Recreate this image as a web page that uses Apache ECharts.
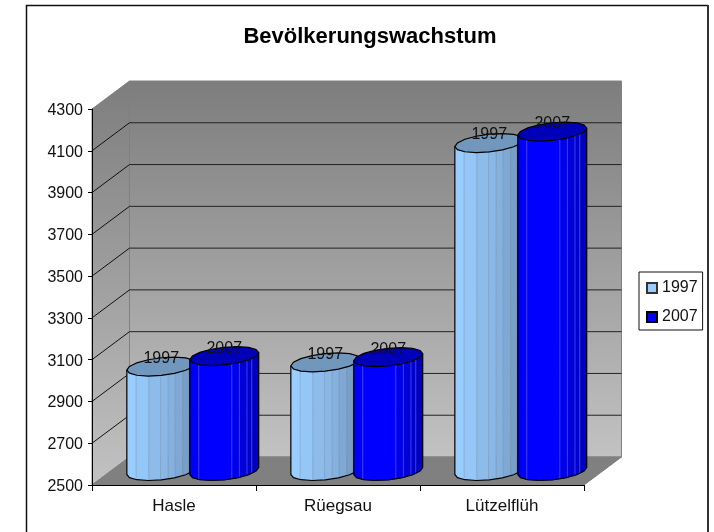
<!DOCTYPE html>
<html>
<head>
<meta charset="utf-8">
<style>html,body{margin:0;padding:0;background:#fff}#main{width:714px;height:532px}</style>
<script src="https://cdn.jsdelivr.net/npm/echarts@6/dist/echarts.min.js"></script>
</head>
<body>
<div id="main"></div>
<script>
var categories = ['Hasle', 'Rüegsau', 'Lützelflüh'];
var values1997 = [3000, 3020, 4070];
var values2007 = [3050, 3045, 4125];
var yTicks = [2500, 2700, 2900, 3100, 3300, 3500, 3700, 3900, 4100, 4300];

var FONT = '"Liberation Sans", Arial, sans-serif';
// oblique depth of the 3D box, in pixels
var DEPTH_X = 37.5, DEPTH_Y = 28;
// cylinder cross section
var RX = 32, SKEW_X = 12.7, SKEW_Y = 9.5;
var T0 = Math.atan2(SKEW_X, RX);
// outline vertices as fractions of the width (a 16-sided ring)
var OUTLINE = [0, 0.038, 0.146, 0.309, 0.5, 0.691, 0.854, 0.962, 1];

function ringPoint(cx, cy, t) {
    return [cx + RX * Math.cos(t) + SKEW_X * Math.sin(t), cy - SKEW_Y * Math.sin(t)];
}

// front half of the ring: fraction 0 is the left extreme, 1 the right one
function frontPoint(cx, cy, e) {
    return ringPoint(cx, cy, T0 - Math.acos(2 * e - 1));
}

function frontArc(cx, cy, e0, e1) {
    var pts = [frontPoint(cx, cy, e0)];
    OUTLINE.forEach(function (e) {
        if (e > e0 && e < e1) {
            pts.push(frontPoint(cx, cy, e));
        }
    });
    pts.push(frontPoint(cx, cy, e1));
    return pts;
}

function mix(rgb, f) {
    return 'rgb(' + rgb.map(function (c) { return Math.round(c * f); }).join(',') + ')';
}

/* Back wall, side wall, floor and their grid lines */
function renderWall(params, api) {
    var rect = params.coordSys;
    var y = api.coord([0, api.value(1)])[1];
    var x0 = rect.x, x1 = rect.x + rect.width;
    var yTop = rect.y, yBot = rect.y + rect.height;
    var children = [];
    if (params.dataIndex === 0) {
        var fade = {
            type: 'linear', x: 0, y: 0, x2: 0, y2: 1,
            colorStops: [{ offset: 0, color: '#7d7d7d' }, { offset: 1, color: '#c2c2c2' }]
        };
        children.push({
            type: 'polygon',
            shape: { points: [[x0 + DEPTH_X, yTop - DEPTH_Y], [x1 + DEPTH_X, yTop - DEPTH_Y], [x1 + DEPTH_X, yBot - DEPTH_Y], [x0 + DEPTH_X, yBot - DEPTH_Y]] },
            style: { fill: fade, stroke: '#808080', lineWidth: 1 }
        });
        children.push({
            type: 'polygon',
            shape: { points: [[x0, yTop], [x0 + DEPTH_X, yTop - DEPTH_Y], [x0 + DEPTH_X, yBot - DEPTH_Y], [x0, yBot]] },
            style: { fill: fade, stroke: '#808080', lineWidth: 1 }
        });
        children.push({
            type: 'polygon',
            shape: { points: [[x0, yBot], [x0 + DEPTH_X, yBot - DEPTH_Y], [x1 + DEPTH_X, yBot - DEPTH_Y], [x1, yBot]] },
            style: { fill: '#808080', stroke: '#808080', lineWidth: 1 }
        });
    }
    if (params.dataIndex > 0 && params.dataIndex < yTicks.length - 1) {
        children.push({
            type: 'line',
            shape: { x1: x0 + DEPTH_X, y1: y - DEPTH_Y, x2: x1 + DEPTH_X, y2: y - DEPTH_Y },
            style: { stroke: '#222', lineWidth: 1 }
        });
        children.push({
            type: 'line',
            shape: { x1: x0, y1: y, x2: x0 + DEPTH_X, y2: y - DEPTH_Y },
            style: { stroke: '#111', lineWidth: 1 }
        });
    }
    return { type: 'group', children: children };
}

/* One faceted cylinder, built from its category and value.
   look.edges: facet edges as fractions of the width, left to right */
function cylinderRenderer(offset, look) {
    var edges = look.edges;
    return function (params, api) {
        var band = api.size([1, 0])[0];
        var base = api.coord([api.value(0), yTicks[0]]);
        var top = api.coord([api.value(0), api.value(1)]);
        var cx = base[0] + offset * band + DEPTH_X / 2;
        var yb = base[1] - DEPTH_Y / 2;
        var yt = top[1] - DEPTH_Y / 2;
        var children = [];
        var i;
        for (i = 0; i < edges.length - 1; i++) {
            var c = mix(look.rgb, look.shades[i]);
            var upper = frontArc(cx, yt, edges[i], edges[i + 1]);
            var lower = frontArc(cx, yb, edges[i], edges[i + 1]).reverse();
            children.push({
                type: 'polygon',
                shape: { points: upper.concat(lower) },
                style: { fill: c, stroke: c, lineWidth: 0.5 }
            });
            if (i > 0) {
                children.push({
                    type: 'line',
                    shape: { x1: upper[0][0], y1: upper[0][1], x2: lower[lower.length - 1][0], y2: lower[lower.length - 1][1] },
                    style: { stroke: look.hairline, lineWidth: 1 }
                });
            }
        }
        var topFront = frontArc(cx, yt, 0, 1);
        var topBack = topFront.map(function (p) {
            return [2 * cx - p[0], 2 * yt - p[1]];
        });
        // outline round the visible body
        children.push({
            type: 'polyline',
            shape: { points: [topFront[0]].concat(frontArc(cx, yb, 0, 1), [topFront[topFront.length - 1]]) },
            style: { fill: 'none', stroke: '#000', lineWidth: 1.2 }
        });
        children.push({
            type: 'polygon',
            shape: { points: topFront.concat(topBack.slice(1, -1)) },
            style: { fill: mix(look.rgb, look.topShade), stroke: '#000', lineWidth: 1.2 }
        });
        children.push({
            type: 'text',
            style: {
                x: cx, y: yt - SKEW_Y + 1.5, text: params.seriesName, fill: '#111',
                font: '16px ' + FONT, align: 'center', verticalAlign: 'middle'
            }
        });
        return { type: 'group', children: children };
    };
}

function cylinderSeries(name, values, offset, look, z) {
    return {
        name: name,
        type: 'custom',
        z: z,
        coordinateSystem: 'cartesian2d',
        itemStyle: { color: mix(look.rgb, 1), borderColor: look.swatchBorder, borderWidth: 1 },
        renderItem: cylinderRenderer(offset, look),
        data: values.map(function (v, i) { return [i, v]; })
    };
}

var lightLook = {
    rgb: [153, 204, 255],
    edges: [0, 0.135, 0.32, 0.49, 0.6, 0.7, 0.81, 0.9, 1],
    shades: [1, 0.97, 0.92, 0.9, 0.87, 0.83, 0.78, 0.74],
    topShade: 0.74,
    hairline: 'rgba(120,140,165,0.35)',
    swatchBorder: '#333'
};
var darkLook = {
    rgb: [0, 0, 255],
    edges: [0, 0.13, 0.61, 0.72, 0.83, 0.9, 1],
    shades: [0.98, 1, 0.92, 0.85, 0.8, 0.74],
    topShade: 0.72,
    hairline: 'rgba(110,110,255,0.55)',
    swatchBorder: '#000'
};

var chart = echarts.init(document.getElementById('main'), null, { renderer: 'canvas' });
chart.setOption({
    animation: false,
    backgroundColor: '#fff',
    title: {
        text: 'Bevölkerungswachstum',
        left: 370, top: 26, padding: 0, textAlign: 'center',
        textStyle: { fontFamily: FONT, fontSize: 22, fontWeight: 'bold', color: '#000' }
    },
    legend: {
        data: ['1997', '2007'],
        orient: 'vertical',
        left: 639, top: 272,
        padding: [8, 5, 5, 7],
        itemWidth: 10, itemHeight: 10, itemGap: 13,
        icon: 'rect',
        borderColor: '#111', borderWidth: 1,
        textStyle: { fontFamily: FONT, fontSize: 16, color: '#111', padding: [0, 0, 0, 0] }
    },
    graphic: [{
        type: 'polyline', silent: true,
        shape: { points: [[26.5, 532], [26.5, 5.5], [708, 5.5]] },
        style: { fill: 'none', stroke: '#111', lineWidth: 1.5 }
    }, {
        type: 'line', silent: true,
        shape: { x1: 708, y1: 5, x2: 708, y2: 532 },
        style: { stroke: '#333', lineWidth: 2 }
    }],
    grid: { left: 92, top: 109, width: 492, height: 376 },
    xAxis: {
        type: 'category',
        data: categories,
        z: 10,
        axisLine: { lineStyle: { color: '#000', width: 1 } },
        axisTick: { show: true, alignWithLabel: false, length: 6, lineStyle: { color: '#000' } },
        axisLabel: { fontFamily: FONT, fontSize: 17, color: '#111', margin: 13 }
    },
    yAxis: {
        type: 'value',
        min: yTicks[0], max: yTicks[yTicks.length - 1],
        z: 10,
        splitLine: { show: false },
        axisLine: { show: true, lineStyle: { color: '#000', width: 1 } },
        axisTick: { show: true, length: 4, customValues: yTicks, lineStyle: { color: '#000' } },
        axisLabel: {
            fontFamily: FONT, fontSize: 16, color: '#111', margin: 9, customValues: yTicks,
            verticalAlign: 'top', lineHeight: 3,
            formatter: function (v) { return String(v); }
        }
    },
    series: [
        {
            name: 'wall', type: 'custom', z: 1, silent: true,
            coordinateSystem: 'cartesian2d',
            renderItem: renderWall,
            data: yTicks.map(function (v) { return [0, v]; })
        },
        cylinderSeries('1997', values1997, -0.192, lightLook, 3),
        cylinderSeries('2007', values2007, 0.192, darkLook, 4)
    ]
});
</script>
</body>
</html>
